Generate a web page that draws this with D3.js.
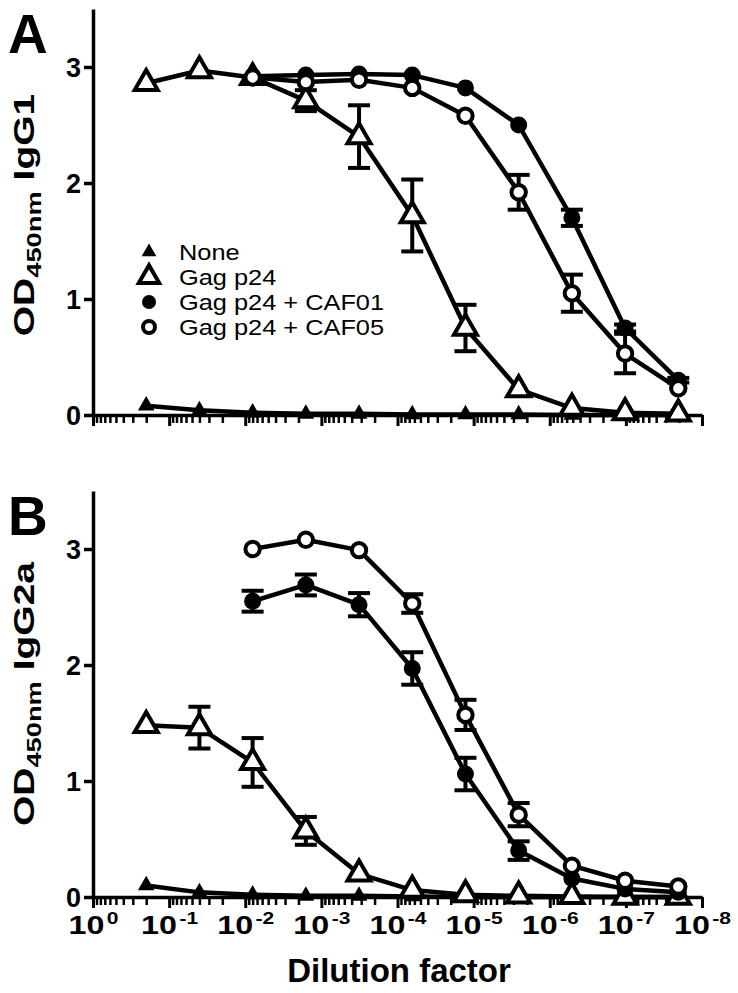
<!DOCTYPE html>
<html>
<head>
<meta charset="utf-8">
<script src="https://cdn.jsdelivr.net/npm/d3@7"></script>
<style>
  html, body { margin: 0; padding: 0; background: #fff; }
  svg { display: block; font-family: "Liberation Sans", Arial, Helvetica, sans-serif; }
</style>
</head>
<body>
<svg id="chart" width="738" height="993"></svg>
<script>
// ---------- DATA ----------
// Dilution factors (1/5 serial dilutions)
const dilutions = [0.2, 0.04, 0.008, 0.0016, 0.00032, 0.000064, 0.0000128, 0.00000256, 5.12e-7, 1.024e-7, 2.048e-8];
const dilutionsCAF = [0.008, 0.0016, 0.00032, 0.000064, 0.0000128, 0.00000256, 5.12e-7, 1.024e-7, 2.048e-8];

const seriesNames = ["None", "Gag p24", "Gag p24 + CAF01", "Gag p24 + CAF05"];

// Panel A: IgG1
const noneA      = [0.08, 0.04, 0.02, 0.01, 0.01, 0.005, 0.005, 0.005, 0.0, 0.0, 0.0];
const noneA_err  = [0, 0, 0, 0, 0, 0, 0, 0, 0, 0, 0];
const gagA       = [2.86, 2.97, 2.91, 2.71, 2.40, 1.72, 0.75, 0.22, 0.06, 0.02, 0.01];
const gagA_err   = [0, 0, 0, 0.09, 0.27, 0.31, 0.20, 0, 0, 0, 0];
const caf01A     = [2.92, 2.93, 2.94, 2.93, 2.82, 2.50, 1.70, 0.75, 0.30];
const caf01A_err = [0, 0, 0, 0, 0, 0, 0.07, 0.03, 0.02];
const caf05A     = [2.91, 2.87, 2.89, 2.82, 2.58, 1.92, 1.05, 0.53, 0.23];
const caf05A_err = [0, 0, 0, 0, 0, 0.15, 0.16, 0.17, 0];

// Panel B: IgG2a
const noneB      = [0.10, 0.04, 0.02, 0.01, 0.01, 0.005, 0.0, 0.0, 0.0, 0.0, 0.0];
const noneB_err  = [0, 0, 0, 0, 0, 0, 0, 0, 0, 0, 0];
const gagB       = [1.48, 1.46, 1.16, 0.57, 0.20, 0.06, 0.02, 0.01, 0.005, 0.0, 0.0];
const gagB_err   = [0, 0.18, 0.21, 0.12, 0, 0, 0, 0, 0, 0, 0];
const caf01B     = [2.55, 2.69, 2.52, 1.97, 1.06, 0.40, 0.16, 0.07, 0.04];
const caf01B_err = [0.09, 0.09, 0.10, 0.14, 0.14, 0.08, 0, 0, 0];
const caf05B     = [3.00, 3.08, 2.99, 2.53, 1.57, 0.71, 0.27, 0.14, 0.09];
const caf05B_err = [0, 0, 0, 0.08, 0.13, 0.10, 0, 0, 0];

const yTicks = [0, 1, 2, 3];
const xMajorTicks = [1, 1e-1, 1e-2, 1e-3, 1e-4, 1e-5, 1e-6, 1e-7, 1e-8];
const xTickExp = ["0", "-1", "-2", "-3", "-4", "-5", "-6", "-7", "-8"];

// ---------- LAYOUT ----------
const svg = d3.select("#chart");
const x = d3.scaleLog().domain([1, 1e-8]).range([93, 702]);

const panels = [
  { letter: "A", top: 9,   bottom: 415, sub: "IgG1", labelY: 215,
    series: [
      { name: seriesNames[0], xs: dilutions,    ys: noneA,  err: noneA_err,  shape: "triFilled" },
      { name: seriesNames[1], xs: dilutions,    ys: gagA,   err: gagA_err,   shape: "triOpen" },
      { name: seriesNames[2], xs: dilutionsCAF, ys: caf01A, err: caf01A_err, shape: "circFilled" },
      { name: seriesNames[3], xs: dilutionsCAF, ys: caf05A, err: caf05A_err, shape: "circOpen" }
    ], legend: true, xlabels: false },
  { letter: "B", top: 491, bottom: 897, sub: "IgG2a", labelY: 694,
    series: [
      { name: seriesNames[0], xs: dilutions,    ys: noneB,  err: noneB_err,  shape: "triFilled" },
      { name: seriesNames[1], xs: dilutions,    ys: gagB,   err: gagB_err,   shape: "triOpen" },
      { name: seriesNames[2], xs: dilutionsCAF, ys: caf01B, err: caf01B_err, shape: "circFilled" },
      { name: seriesNames[3], xs: dilutionsCAF, ys: caf05B, err: caf05B_err, shape: "circOpen" }
    ], legend: false, xlabels: true }
];

// minor ticks (2..9 x 10^-k)
const minorTicks = [];
for (let e = 1; e <= 8; e++) {
  for (let m = 2; m <= 9; m++) minorTicks.push(m * Math.pow(10, -e));
}

function drawMarker(g, shape, cx, cy, legend) {
  if (shape === "triFilled") {
    const sz = legend ? 95 : 120;
    g.append("path")
      .attr("d", d3.symbol().type(d3.symbolTriangle).size(sz)())
      .attr("transform", `translate(${cx},${cy})`)
      .attr("fill", "#000");
  } else if (shape === "triOpen") {
    const sz = legend ? 180 : 230;
    g.append("path")
      .attr("d", d3.symbol().type(d3.symbolTriangle).size(sz)())
      .attr("transform", `translate(${cx},${cy})`)
      .attr("fill", "#fff").attr("stroke", "#000").attr("stroke-width", 4)
      .attr("stroke-linejoin", "miter");
  } else if (shape === "circFilled") {
    g.append("circle").attr("cx", cx).attr("cy", cy).attr("r", legend ? 7 : 8.5)
      .attr("fill", "#000");
  } else {
    g.append("circle").attr("cx", cx).attr("cy", cy).attr("r", legend ? 6 : 7.2)
      .attr("fill", "#fff").attr("stroke", "#000").attr("stroke-width", 4);
  }
}

panels.forEach(p => {
  const y = d3.scaleLinear().domain([0, 3.5]).range([p.bottom, p.top]);
  const g = svg.append("g");

  // Panel letter
  g.append("text").attr("x", 8).attr("y", p.top + 44)
    .attr("font-size", 55).attr("font-weight", "bold").text(p.letter);

  // Y axis
  const yAxis = g.append("g").attr("transform", `translate(${x(1)},0)`)
    .call(d3.axisLeft(y).tickValues(yTicks).tickSize(9).tickSizeOuter(0).tickFormat(d3.format("d")));
  yAxis.select(".domain").attr("stroke-width", 3.5);
  yAxis.selectAll(".tick line").attr("stroke-width", 3.5);
  yAxis.selectAll(".tick text").attr("font-size", 27).attr("font-weight", "bold")
    .attr("font-family", "Liberation Sans, Arial, sans-serif").attr("x", -12).attr("dy", "0.36em");

  // X axis: minor ticks
  const xMinor = g.append("g").attr("transform", `translate(0,${p.bottom})`)
    .call(d3.axisBottom(x).tickValues(minorTicks).tickSize(8).tickSizeOuter(0).tickFormat(""));
  xMinor.select(".domain").remove();
  xMinor.selectAll(".tick line").attr("stroke-width", 2.5);

  // X axis: major ticks + line
  const xMajor = g.append("g").attr("transform", `translate(0,${p.bottom})`)
    .call(d3.axisBottom(x).tickValues(xMajorTicks).tickSize(11).tickSizeOuter(0).tickFormat(""));
  xMajor.select(".domain").attr("stroke-width", 3.5);
  xMajor.selectAll(".tick line").attr("stroke-width", 3);

  if (p.xlabels) {
    xMajor.selectAll(".tick").each(function(d, i) {
      const t = d3.select(this).append("text")
        .attr("y", 37).attr("fill", "#000").attr("text-anchor", "middle")
        .attr("transform", "scale(1.24,1)")
        .attr("font-size", 26).attr("font-weight", "bold")
        .attr("font-family", "Liberation Sans, Arial, sans-serif");
      t.append("tspan").text("10");
      t.append("tspan").attr("font-size", 17).attr("dy", -10).attr("dx", 2).text(xTickExp[i]);
    });
  }

  // Y axis label
  const yl = g.append("text")
    .attr("transform", `translate(34,${p.labelY}) rotate(-90) scale(1.3,1)`)
    .attr("text-anchor", "middle").attr("font-weight", "bold").attr("font-size", 30);
  yl.append("tspan").text("OD");
  yl.append("tspan").attr("font-size", 21).attr("dy", 7).text("450nm");
  yl.append("tspan").attr("dy", -7).text(" " + p.sub);

  // Lines
  const line = d3.line().x(d => x(d[0])).y(d => y(d[1]));
  p.series.forEach(s => {
    const pts = s.xs.map((xv, i) => [xv, s.ys[i]]);
    g.append("path").datum(pts).attr("d", line)
      .attr("fill", "none").attr("stroke", "#000").attr("stroke-width", 4.5)
      .attr("stroke-linejoin", "round");
  });

  // Error bars
  p.series.forEach(s => {
    s.xs.forEach((xv, i) => {
      const e = s.err[i];
      if (!e) return;
      const cx = x(xv), y1 = y(s.ys[i] + e), y2 = y(s.ys[i] - e);
      g.append("line").attr("x1", cx).attr("x2", cx).attr("y1", y1).attr("y2", y2)
        .attr("stroke", "#000").attr("stroke-width", 4);
      [y1, y2].forEach(yy => g.append("line").attr("x1", cx - 11).attr("x2", cx + 11)
        .attr("y1", yy).attr("y2", yy).attr("stroke", "#000").attr("stroke-width", 4));
    });
  });

  // Markers
  p.series.forEach(s => {
    s.xs.forEach((xv, i) => drawMarker(g, s.shape, x(xv), y(s.ys[i]), false));
  });

  // Legend
  if (p.legend) {
    const lg = g.append("g");
    p.series.forEach((s, i) => {
      const cy = 252 + i * 25;
      drawMarker(lg, s.shape, 149, cy, true);
      lg.append("text").attr("transform", `translate(179,${cy + 8}) scale(1.18,1)`)
        .attr("font-size", 21.5).text(s.name);
    });
  }
});

// X axis title
svg.append("text").attr("x", 399).attr("y", 982).attr("text-anchor", "middle")
  .attr("font-size", 33).attr("font-weight", "bold").text("Dilution factor");
</script>
</body>
</html>
